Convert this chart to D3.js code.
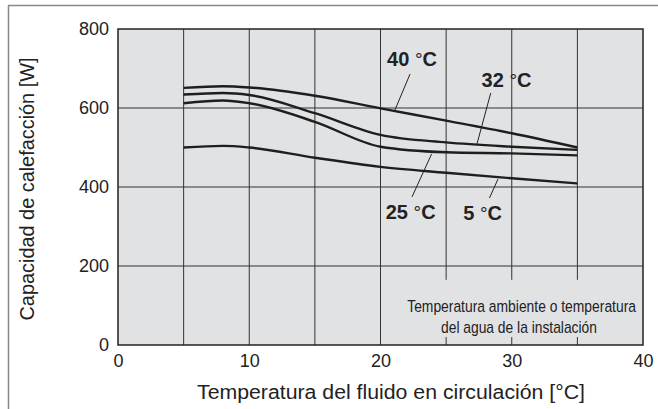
<!DOCTYPE html>
<meta charset="utf-8">
<style>
body { margin: 0; background: #fff; }
svg { font-family: "Liberation Sans", Arial, Helvetica, sans-serif; }
.tick text { font-size: 18px; fill: #222; }
.curve { fill: none; stroke: #1e1e1e; stroke-width: 2.4px; }
.lbl { font-size: 20px; font-weight: bold; fill: #222; }
.leader { stroke: #222; stroke-width: 1px; }
</style>
<svg width="658" height="409"></svg>
<script src="https://d3js.org/d3.v7.min.js"></script>
<script>

// fluid temperature (°C) at which each curve was read
var xs = [5, 8, 10, 15, 20, 25, 30, 35];
// heating capacity (W), one list per ambient temperature
var cap40 = [651, 655, 652, 631, 599, 568, 536, 500];
var cap32 = [634, 638, 633, 587, 532, 513, 502, 494];
var cap25 = [612, 619, 612, 565, 502, 488, 485, 480];
var cap5  = [500, 504, 500, 474, 451, 436, 422, 409];
var curveNums = ["40", "32", "25", "5"];

var xTicks = [0, 10, 20, 30, 40];
var yTicks = [0, 200, 400, 600, 800];
var xGrid = [5, 10, 15, 20, 25, 30, 35];

// label anchor + leader line, in data units
var labels = [
  {name: curveNums[0], x: 20.5, y: 706, l: [[22.25, 686], [21.1, 595]]},
  {name: curveNums[1], x: 27.7, y: 653, l: [[28.4, 638], [27.35, 509]]},
  {name: curveNums[2], x: 20.4, y: 319, l: [[22.4, 375], [23.9, 484]]},
  {name: curveNums[3], x: 26.3, y: 316, l: [[28.3, 372], [28.95, 420]]}
];

var noteLines = ["Temperatura ambiente o temperatura", "del agua de la instalación"];

var svg = d3.select("svg"),
    margin = {top: 29, left: 118, right: 15, bottom: 64},
    width = +svg.attr("width") - margin.left - margin.right,
    height = +svg.attr("height") - margin.top - margin.bottom;

// outer frame (top + left only)
svg.append("line").attr("x1", 8).attr("x2", 658).attr("y1", 5.5).attr("y2", 5.5)
  .attr("stroke", "#888").attr("stroke-width", 1.5);
svg.append("line").attr("x1", 8.5).attr("x2", 8.5).attr("y1", 5).attr("y2", 409)
  .attr("stroke", "#888").attr("stroke-width", 1.5);

var g = svg.append("g").attr("transform", "translate(" + margin.left + "," + margin.top + ")");

var x = d3.scaleLinear().domain([0, 40]).range([0, width]);
var y = d3.scaleLinear().domain([0, 800]).range([height, 0]);

g.append("rect").attr("width", width).attr("height", height).attr("fill", "#e1e2e4");

// grid
g.selectAll(".vg").data(xGrid).enter().append("line")
  .attr("x1", d => x(d)).attr("x2", d => x(d))
  .attr("y1", 0).attr("y2", height)
  .attr("stroke", "#333").attr("stroke-width", 1);
g.selectAll(".hg").data(yTicks.slice(1, -1)).enter().append("line")
  .attr("x1", 0).attr("x2", width)
  .attr("y1", d => y(d)).attr("y2", d => y(d))
  .attr("stroke", "#333").attr("stroke-width", 1);

// note box hides the grid behind the text
g.append("rect")
  .attr("x", x(22.2)).attr("y", y(165))
  .attr("width", x(39.8) - x(22.2)).attr("height", y(20) - y(165))
  .attr("fill", "#e1e2e4");

// condensed note text: squeeze horizontally with a scale so it stays inside the plot
[[noteLines[0], 30.75, 83, 229], [noteLines[1], 30.55, 30, 156]].forEach(function(n) {
  var ng = g.append("g");
  var t = ng.append("text")
    .attr("font-family", "'Liberation Sans Narrow', 'Arial Narrow', sans-serif")
    .attr("font-size", 17).attr("fill", "#222").attr("text-anchor", "middle")
    .attr("y", y(n[2])).text(n[0]);
  var k = n[3] / t.node().getComputedTextLength();
  ng.attr("transform", "translate(" + x(n[1]) + ",0) scale(" + k + ",1)");
});

// curves
var line = d3.line().x(d => x(d[0])).y(d => y(d[1])).curve(d3.curveMonotoneX);
[cap40, cap32, cap25, cap5].forEach(function(vals) {
  g.append("path").attr("class", "curve").attr("d", line(xs.map((v, i) => [v, vals[i]])));
});

// labels
labels.forEach(function(d) {
  g.append("line").attr("class", "leader")
    .attr("x1", x(d.l[0][0])).attr("y1", y(d.l[0][1]))
    .attr("x2", x(d.l[1][0])).attr("y2", y(d.l[1][1]));
  var t = g.append("text").attr("class", "lbl").attr("x", x(d.x)).attr("y", y(d.y));
  t.append("tspan").text(d.name + " ");
  t.append("tspan").attr("font-weight", "normal").attr("font-size", 19).text("°");
  t.append("tspan").text("C");
});

// frame
g.append("rect").attr("width", width).attr("height", height)
  .attr("fill", "none").attr("stroke", "#222").attr("stroke-width", 1.5);

g.append("g").attr("transform", "translate(0," + height + ")")
  .call(d3.axisBottom(x).tickValues(xTicks).tickSize(0).tickPadding(9))
  .call(a => a.select(".domain").remove());
g.append("g")
  .call(d3.axisLeft(y).tickValues(yTicks).tickSize(0).tickPadding(9))
  .call(a => a.select(".domain").remove());

svg.append("text").attr("x", 391).attr("y", 399).attr("text-anchor", "middle")
  .attr("font-size", 19.5).attr("fill", "#222")
  .attr("textLength", 388).attr("lengthAdjust", "spacingAndGlyphs")
  .text("Temperatura del fluido en circulación [°C]");
svg.append("text").attr("transform", "translate(34,189) rotate(-90)")
  .attr("text-anchor", "middle").attr("font-size", 19.5).attr("fill", "#222")
  .attr("textLength", 263).attr("lengthAdjust", "spacingAndGlyphs")
  .text("Capacidad de calefacción [W]");

</script>
